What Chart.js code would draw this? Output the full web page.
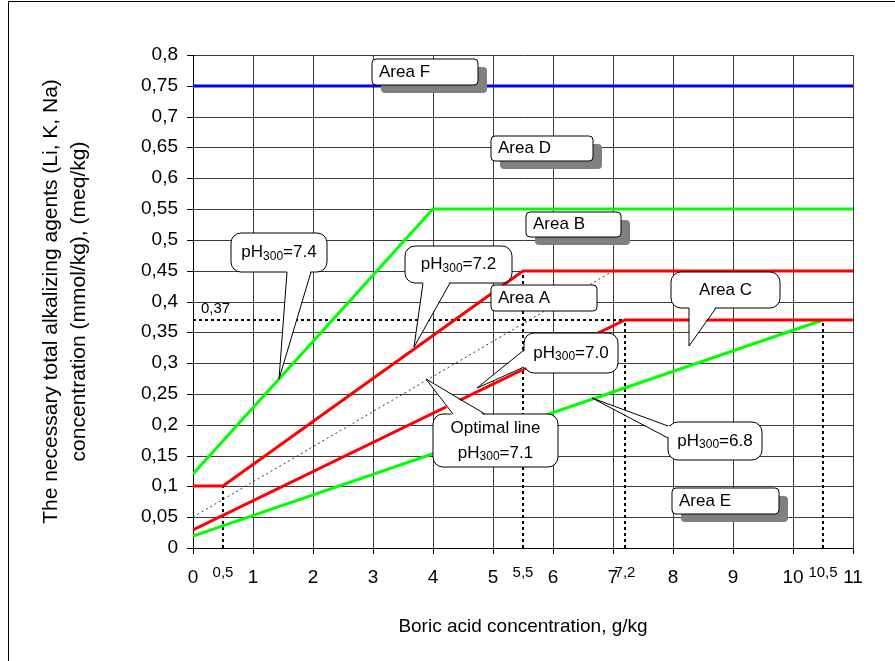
<!DOCTYPE html>
<html>
<head>
<meta charset="utf-8">
<script src="https://cdn.jsdelivr.net/npm/chart.js@4"></script>
<style>
  html, body { margin: 0; padding: 0; background: #fff; }
  #wrap { position: relative; width: 895px; height: 661px; overflow: hidden; }
  #frame { position: absolute; left: 8px; top: 1px; width: 1000px; height: 1000px; border: 1px solid #000; }
  #chart { position: absolute; left: 0; top: 0; }
</style>
</head>
<body>
<div id="wrap"><div id="frame"></div><canvas id="chart" width="895" height="661"></canvas></div>
<script>
// Boric acid / alkalizing agents diagram
const FONT = 'Arial, "Liberation Sans", sans-serif';

// tick labels
const xMajorTicks = [0, 1, 2, 3, 4, 5, 6, 7, 8, 9, 10, 11];
const xMinorTicks = [0.5, 5.5, 7.2, 10.5];
const yTicks = [0, 0.05, 0.1, 0.15, 0.2, 0.25, 0.3, 0.35, 0.4, 0.45, 0.5, 0.55, 0.6, 0.65, 0.7, 0.75, 0.8];

// series (boric acid g/kg -> alkalizing agents mmol/kg)
const areaFX = [0, 11];
const areaFY = [0.75, 0.75];
const ph74X = [0, 4, 11];
const ph74Y = [0.12, 0.55, 0.55];
const ph72X = [0, 0.5, 5.5, 11];
const ph72Y = [0.1, 0.1, 0.45, 0.45];
const ph70X = [0, 7.2, 11];
const ph70Y = [0.03, 0.37, 0.37];
const ph68X = [0, 10.5];
const ph68Y = [0.02, 0.37];
const optimalX = [0, 7];
const optimalY = [0.05, 0.45];

// dotted guide lines
const guideX = [[0.5, 0.5], [5.5, 5.5], [7.2, 7.2], [10.5, 10.5], [0, 7.2]];
const guideY = [[0, 0.1], [0, 0.45], [0, 0.37], [0, 0.37], [0.37, 0.37]];

// area label boxes (data coords: x0, y0, x1, y1)
const areaLabels = ['Area F', 'Area D', 'Area B', 'Area A', 'Area E'];
const areaBoxes = [
  [2.98, 0.794, 4.75, 0.752],
  [4.96, 0.669, 6.66, 0.628],
  [5.55, 0.545, 7.13, 0.505],
  [4.96, 0.427, 6.73, 0.385],
  [7.98, 0.097, 9.77, 0.055]
];
const areaShadow = [true, true, true, false, true];

// callouts: text lines split as [normal, subscript, normal]
const callouts = [
  { lines: [['pH', '300', '=7.4']], box: [0.64, 0.511, 2.23, 0.448], base: [[1.56, 0.448], [1.96, 0.448]], tip: [1.44, 0.274] },
  { lines: [['pH', '300', '=7.2']], box: [3.54, 0.490, 5.31, 0.430], base: [[3.83, 0.430], [4.28, 0.430]], tip: [3.69, 0.326] },
  { lines: [['Area C']], box: [7.97, 0.448, 9.78, 0.390], base: [[8.27, 0.390], [8.72, 0.390]], tip: [8.27, 0.328] },
  { lines: [['pH', '300', '=7.0']], box: [5.51, 0.349, 7.08, 0.284], base: [[5.51, 0.321], [5.51, 0.294]], tip: [4.73, 0.260] },
  { lines: [['Optimal line'], ['pH', '300', '=7.1']], box: [4.0, 0.2175, 6.08, 0.1315], base: [[4.33, 0.2175], [4.86, 0.2175]], tip: [3.88, 0.274] },
  { lines: [['pH', '300', '=6.8']], box: [7.91, 0.2045, 9.48, 0.143], base: [[7.91, 0.198], [7.91, 0.179]], tip: [6.65, 0.2435] }
];

function fmt(v) { return String(Math.round(v * 100) / 100).replace('.', ','); }
function isMinorX(v) { return xMinorTicks.some(m => Math.abs(m - v) < 1e-6); }

function lineSet(xs, ys, color, width, dash) {
  return {
    data: xs.map((x, i) => ({ x: x, y: ys[i] })),
    borderColor: color,
    borderWidth: width,
    borderDash: dash || [],
    showLine: true,
    pointRadius: 0,
    fill: false,
    tension: 0
  };
}

const datasets = [
  lineSet(areaFX, areaFY, '#0000ee', 3),
  lineSet(ph74X, ph74Y, '#00ff00', 3),
  lineSet(ph72X, ph72Y, '#ff0000', 3),
  lineSet(ph70X, ph70Y, '#ff0000', 3),
  lineSet(ph68X, ph68Y, '#00ff00', 3),
  lineSet(optimalX, optimalY, '#333', 1, [2, 3])
];
guideX.forEach((gx, i) => datasets.push(lineSet(gx, guideY[i], '#000', 2, [3, 3])));

function roundRect(ctx, x, y, w, h, r) {
  ctx.beginPath();
  ctx.moveTo(x + r, y);
  ctx.arcTo(x + w, y, x + w, y + h, r);
  ctx.arcTo(x + w, y + h, x, y + h, r);
  ctx.arcTo(x, y + h, x, y, r);
  ctx.arcTo(x, y, x + w, y, r);
  ctx.closePath();
}

// text with subscript parts: [normal, sub, normal]
function richWidth(ctx, parts) {
  let w = 0;
  parts.forEach((p, i) => {
    ctx.font = (i % 2 ? '12px ' : '17px ') + FONT;
    w += ctx.measureText(p).width;
  });
  return w;
}
function drawRich(ctx, parts, x, y) {
  let cx = x;
  parts.forEach((p, i) => {
    ctx.font = (i % 2 ? '12px ' : '17px ') + FONT;
    ctx.fillText(p, cx, i % 2 ? y + 4 : y);
    cx += ctx.measureText(p).width;
  });
}

const overlayPlugin = {
  id: 'overlay',
  afterDatasetsDraw(chart) {
    const ctx = chart.ctx;
    const px = v => chart.scales.x.getPixelForValue(v);
    const py = v => chart.scales.y.getPixelForValue(v);
    ctx.save();
    ctx.textBaseline = 'middle';
    ctx.lineWidth = 1;

    // 0,37 label
    ctx.fillStyle = '#000';
    ctx.font = '15px ' + FONT;
    ctx.textAlign = 'left';
    ctx.fillText('0,37', px(0.14), py(0.388));

    // area boxes
    areaLabels.forEach((txt, i) => {
      const b = areaBoxes[i];
      const x = px(b[0]), y = py(b[1]), w = px(b[2]) - x, h = py(b[3]) - y;
      if (areaShadow[i]) {
        ctx.fillStyle = '#808080';
        roundRect(ctx, x + 9, y + 8, w, h, 4);
        ctx.fill();
      }
      ctx.fillStyle = '#fff';
      ctx.strokeStyle = '#000';
      roundRect(ctx, x, y, w, h, 4);
      ctx.fill();
      ctx.stroke();
      ctx.fillStyle = '#000';
      ctx.font = '17px ' + FONT;
      ctx.textAlign = 'left';
      ctx.fillText(txt, x + 7, y + h / 2);
    });

    // callouts
    callouts.forEach(c => {
      const x = px(c.box[0]), y = py(c.box[1]), w = px(c.box[2]) - x, h = py(c.box[3]) - y;
      ctx.fillStyle = '#fff';
      ctx.strokeStyle = '#000';
      roundRect(ctx, x, y, w, h, 10);
      ctx.fill();
      ctx.stroke();
      const b = c.base.map(p => [px(p[0]), py(p[1])]);
      const t = [px(c.tip[0]), py(c.tip[1])];
      const inset = b.map(p => {
        if (Math.abs(p[1] - y) < 1) return [p[0], p[1] + 2];
        if (Math.abs(p[1] - (y + h)) < 1) return [p[0], p[1] - 2];
        if (Math.abs(p[0] - x) < 1) return [p[0] + 2, p[1]];
        return [p[0] - 2, p[1]];
      });
      ctx.beginPath();
      ctx.moveTo(inset[0][0], inset[0][1]);
      ctx.lineTo(t[0], t[1]);
      ctx.lineTo(inset[1][0], inset[1][1]);
      ctx.closePath();
      ctx.fill();
      ctx.beginPath();
      ctx.moveTo(b[0][0], b[0][1]);
      ctx.lineTo(t[0], t[1]);
      ctx.lineTo(b[1][0], b[1][1]);
      ctx.stroke();
      ctx.fillStyle = '#000';
      ctx.textAlign = 'left';
      const n = c.lines.length, lh = 25;
      c.lines.forEach((parts, i) => {
        const tw = richWidth(ctx, parts);
        drawRich(ctx, parts, x + w / 2 - tw / 2, y + h / 2 + (i - (n - 1) / 2) * lh);
      });
    });
    ctx.restore();
  }
};

new Chart(document.getElementById('chart'), {
  type: 'scatter',
  data: { datasets: datasets },
  plugins: [overlayPlugin],
  options: {
    responsive: false,
    animation: false,
    layout: { padding: { left: 0, right: 42, top: 55, bottom: 0 } },
    plugins: { legend: { display: false }, tooltip: { enabled: false } },
    scales: {
      x: {
        type: 'linear', min: 0, max: 11,
        alignToPixels: true,
        afterBuildTicks: s => { s.ticks = xMajorTicks.concat(xMinorTicks).sort((a, b) => a - b).map(v => ({ value: v })); },
        afterFit: s => { s.height = 113; },
        grid: {
          color: c => (c.tick && isMinorX(c.tick.value)) ? 'rgba(0,0,0,0)' : '#3a3a3a',
          tickColor: c => (c.tick && isMinorX(c.tick.value)) ? 'rgba(0,0,0,0)' : '#000',
          tickLength: 6
        },
        border: { color: '#000' },
        ticks: {
          autoSkip: false, maxRotation: 0, padding: 12, color: '#000',
          font: c => (c.tick && isMinorX(c.tick.value)) ? { size: 15, lineHeight: 0.9, family: FONT } : { size: 19, family: FONT },
          callback: v => fmt(v)
        },
        title: { display: true, text: 'Boric acid concentration, g/kg', color: '#000', font: { size: 19, family: FONT }, padding: { top: 0, bottom: 23 } }
      },
      y: {
        type: 'linear', min: 0, max: 0.8,
        alignToPixels: true,
        afterBuildTicks: s => { s.ticks = yTicks.map(v => ({ value: v })); },
        afterFit: s => { s.width = 193; },
        grid: { color: '#3a3a3a', tickColor: '#000', tickLength: 6 },
        border: { color: '#000' },
        ticks: { padding: 9, color: '#000', font: { size: 19, family: FONT }, callback: v => fmt(v) },
        title: {
          display: true,
          text: ['The necessary total alkalizing agents (Li, K, Na)', 'concentration (mmol/kg), (meq/kg)'],
          color: '#000', font: { size: 21, family: FONT, lineHeight: 1.33 }, padding: { top: 37, bottom: 0 }
        }
      }
    }
  }
});
</script>
</body>
</html>
